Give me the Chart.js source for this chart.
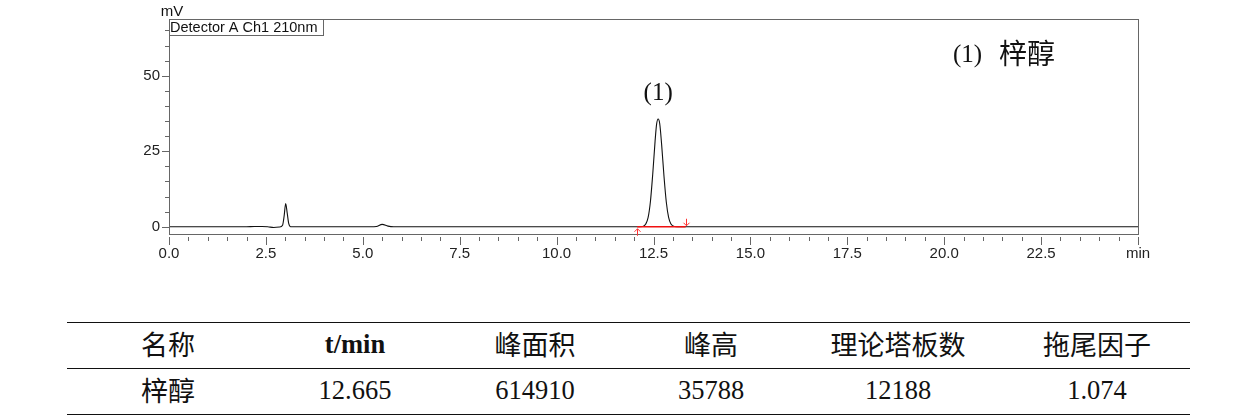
<!DOCTYPE html>
<html lang="zh">
<head>
  <meta charset="UTF-8" />
  <title>梓醇 色谱图</title>
  <script src="https://cdn.jsdelivr.net/npm/chart.js"></script>
  <style>
    body {
      margin: 0;
      width: 1260px;
      height: 420px;
      background: #fff;
      position: relative;
      overflow: hidden;
    }
    #wrap {
      position: absolute;
      left: 0;
      top: 0;
      width: 1260px;
      height: 270px;
    }
    .rule {
      position: absolute;
      left: 67px;
      width: 1123px;
      height: 0;
      border-top: 1.4px solid #111;
    }
    .cell {
      position: absolute;
      width: 240px;
      height: 36px;
      line-height: 36px;
      text-align: center;
      color: #111;
      white-space: nowrap;
    }
    .zh {
      font-family: "Noto Sans CJK SC", sans-serif;
      font-size: 27px;
    }
    .num {
      font-family: "Liberation Serif", "Times New Roman", serif;
      font-size: 26.5px;
    }
    .bold {
      font-weight: bold;
    }
  </style>
</head>
<body>

  <div id="wrap"><canvas id="chrom" width="1260" height="270"></canvas></div>
  <div id="table"></div>

  <script>
    // chromatogram trace: time (min) and signal (mV)
    const times = [
      0, 1.8, 2.0, 2.2, 2.4, 2.55, 2.7, 2.85, 2.93, 2.97, 3.01, 3.05, 3.09, 3.14, 3.3,
      5.2, 5.35, 5.5, 5.65, 5.8,
      12.0, 12.22, 12.30, 12.36, 12.42, 12.48, 12.54, 12.58, 12.62, 12.66, 12.71,
      12.77, 12.83, 12.89, 12.95, 13.04, 13.2, 25
    ];
    const signal = [
      0, 0, 0.02, 0.08, 0.1, 0.0, -0.25, -0.1, 0.5, 3.5, 7.7, 4.5, 1.0, 0.0, 0,
      0, 0.1, 0.8, 0.2, 0,
      0, 0.1, 0.9, 3.0, 8.3, 17.4, 28.2, 34.0, 35.7, 34.2, 27.2,
      16.8, 8.2, 3.1, 0.9, 0.1, 0, 0
    ];

    // integration baseline of peak (1)
    const peakStart = 12.08;
    const peakEnd = 13.33;
    const peakApex = 12.62;
    const peakApexHeight = 35.7;

    const xTicks = [0, 2.5, 5, 7.5, 10, 12.5, 15, 17.5, 20, 22.5, 25];
    const xTickLabels = ['0.0', '2.5', '5.0', '7.5', '10.0', '12.5', '15.0', '17.5', '20.0', '22.5', 'min'];
    const yTicks = [0, 25, 50];
    const yTickLabels = ['0', '25', '50'];

    // peak table
    const tableHead = ['名称', 't/min', '峰面积', '峰高', '理论塔板数', '拖尾因子'];
    const tableRow = ['梓醇', '12.665', '614910', '35788', '12188', '1.074'];

    const frameColor = '#666';

    const trace = times.map((t, i) => ({ x: t, y: signal[i] }));

    const decor = {
      id: 'decor',
      afterDraw(chart) {
        const ctx = chart.ctx;
        const a = chart.chartArea;
        const xs = chart.scales.x;
        const ys = chart.scales.y;
        ctx.save();

        // frame
        ctx.strokeStyle = frameColor;
        ctx.lineWidth = 1;
        ctx.strokeRect(Math.round(a.left) + 0.5, Math.round(a.top) + 0.5,
          Math.round(a.right - a.left), Math.round(a.bottom - a.top));

        // x ticks (major every 2.5, minor every 0.5)
        ctx.beginPath();
        for (let k = 0; k <= 50; k++) {
          const px = Math.round(xs.getPixelForValue(k * 0.5)) + 0.5;
          const len = k % 5 === 0 ? 8 : 4;
          ctx.moveTo(px, a.bottom + 3);
          ctx.lineTo(px, a.bottom + 3 + len);
        }
        // y ticks (major every 25, minor every 5)
        for (let k = 0; k <= 13; k++) {
          const py = Math.round(ys.getPixelForValue(k * 5)) + 0.5;
          const len = k % 5 === 0 ? 7 : 4;
          ctx.moveTo(a.left, py);
          ctx.lineTo(a.left - len, py);
        }
        ctx.stroke();

        // detector box
        ctx.strokeStyle = frameColor;
        ctx.strokeRect(Math.round(a.left) + 0.5, Math.round(a.top) + 0.5, 154, 16);
        ctx.fillStyle = '#111';
        ctx.font = '14.5px "Liberation Sans", Arial, sans-serif';
        ctx.textBaseline = 'alphabetic';
        ctx.textAlign = 'left';
        ctx.fillText('Detector A Ch1 210nm', a.left + 1, a.top + 13);

        // unit label
        ctx.textAlign = 'center';
        ctx.font = '15px "Liberation Sans", Arial, sans-serif';
        ctx.fillText('mV', a.left + 3, a.top - 3);

        // peak label
        ctx.font = '25px "Liberation Serif", "Times New Roman", serif';
        ctx.textBaseline = 'middle';
        ctx.fillText('(1)', xs.getPixelForValue(peakApex), ys.getPixelForValue(peakApexHeight) - 26);

        // legend text
        ctx.textAlign = 'left';
        ctx.fillText('(1)', 953, 55);
        ctx.font = '28px "Noto Sans CJK SC", sans-serif';
        ctx.fillText('梓醇', 999, 53);

        // integration marks
        ctx.strokeStyle = '#ff3030';
        ctx.lineWidth = 1;
        const y0 = ys.getPixelForValue(0);
        const sx = Math.round(xs.getPixelForValue(peakStart)) + 0.5;
        const ex = Math.round(xs.getPixelForValue(peakEnd)) + 0.5;
        ctx.beginPath();
        ctx.moveTo(sx, y0 + 2); ctx.lineTo(sx, y0 + 9);
        ctx.moveTo(sx - 3, y0 + 5); ctx.lineTo(sx, y0 + 2); ctx.lineTo(sx + 3, y0 + 5);
        ctx.moveTo(ex, y0 - 8); ctx.lineTo(ex, y0 - 1);
        ctx.moveTo(ex - 3, y0 - 4); ctx.lineTo(ex, y0 - 1); ctx.lineTo(ex + 3, y0 - 4);
        ctx.stroke();

        ctx.restore();
      }
    };

    new Chart(document.getElementById('chrom'), {
      type: 'line',
      data: {
        datasets: [
          {
            data: [{ x: peakStart, y: 0 }, { x: peakEnd, y: 0 }],
            borderColor: '#f01010',
            borderWidth: 1.5,
            pointRadius: 0,
            tension: 0
          },
          {
            data: trace,
            borderColor: '#111',
            borderWidth: 1.1,
            pointRadius: 0,
            cubicInterpolationMode: 'monotone'
          }
        ]
      },
      options: {
        responsive: false,
        animation: false,
        devicePixelRatio: 1,
        layout: { padding: { left: 0, right: 122, top: 19, bottom: 0 } },
        plugins: { legend: { display: false }, tooltip: { enabled: false } },
        scales: {
          x: {
            type: 'linear',
            min: 0,
            max: 25,
            border: { display: false },
            grid: { display: false, drawTicks: true, tickLength: 9 },
            afterBuildTicks: s => { s.ticks = xTicks.map(v => ({ value: v })); },
            afterFit: s => { s.height = 36; },
            ticks: {
              autoSkip: false,
              maxRotation: 0,
              padding: 2,
              color: '#222',
              font: { family: '"Liberation Sans", Arial, sans-serif', size: 15 },
              callback: (v, i) => xTickLabels[i]
            }
          },
          y: {
            type: 'linear',
            min: -2.4,
            max: 68.8,
            border: { display: false },
            grid: { display: false, drawTicks: true, tickLength: 7 },
            afterBuildTicks: s => { s.ticks = yTicks.map(v => ({ value: v })); },
            afterFit: s => { s.width = 169; },
            ticks: {
              padding: 2,
              color: '#222',
              font: { family: '"Liberation Sans", Arial, sans-serif', size: 15 },
              callback: (v, i) => yTickLabels[i]
            }
          }
        }
      },
      plugins: [decor]
    });

    // table
    const table = document.getElementById('table');
    const colCenters = [168, 355, 535, 711, 898, 1097];
    [323, 369, 415].forEach(y => {
      const r = document.createElement('div');
      r.className = 'rule';
      r.style.top = (y - 1) + 'px';
      table.appendChild(r);
    });
    function addRow(cells, cy) {
      cells.forEach((txt, i) => {
        const d = document.createElement('div');
        const isNum = /^[0-9a-z./]+$/i.test(txt);
        d.className = 'cell ' + (isNum ? 'num' : 'zh') + (txt === 't/min' ? ' bold' : '');
        d.style.left = (colCenters[i] - 120) + 'px';
        d.style.top = (cy - 18) + 'px';
        d.textContent = txt;
        table.appendChild(d);
      });
    }
    addRow(tableHead, 344);
    addRow(tableRow, 390);
  </script>
</body>
</html>
